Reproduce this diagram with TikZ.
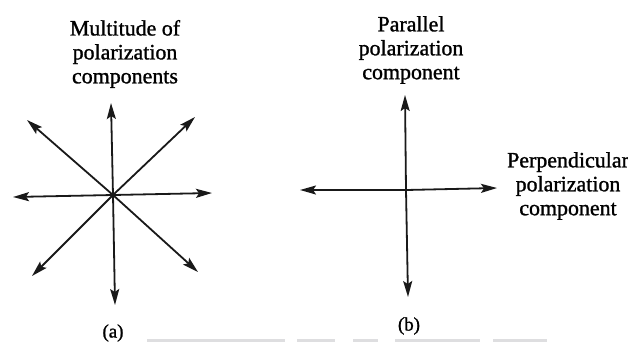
\documentclass[tikz,border=0pt]{standalone}
\usepackage{fontspec}
\setmainfont{Liberation Serif}
\newfontfamily\scanfont[FakeBold=1.2]{Liberation Serif}
\usetikzlibrary{arrows.meta}
\begin{document}
\begin{tikzpicture}[x=1bp,y=-1bp,
  vec/.style={line width=1.8bp, draw=black!90, -{Stealth[length=16bp,width=9bp,inset=3bp]}},
  lbl/.style={font=\scanfont\fontsize{22}{24}\selectfont, align=center, inner sep=0pt, text=black},
  captxt/.style={font=\scanfont\fontsize{19}{21}\selectfont, inner sep=0pt, text=black},
  scanbar/.style={fill=blue!6!black!13}]
\useasboundingbox (0,0) rectangle (628,342);
\clip (0,0) rectangle (628,342);

% (a) multitude of components
\coordinate (ca) at (113,195);
\coordinate (aU) at (111,103);
\coordinate (aD) at (115,305);
\coordinate (aL) at (13,197);
\coordinate (aR) at (212,193);
\coordinate (aUL) at (27,120);
\coordinate (aUR) at (195,117);
\coordinate (aLL) at (32,276);
\coordinate (aLR) at (198,272);
\foreach \t in {aU,aD,aL,aR,aUL,aUR,aLL,aLR}
  \draw[vec] (ca) -- (\t);

% (b) parallel / perpendicular
\coordinate (cb) at (406,190);
\coordinate (bU) at (405,95);
\coordinate (bD) at (408,297);
\coordinate (bL) at (300,190);
\coordinate (bR) at (497,188);
\foreach \t in {bU,bD,bL,bR}
  \draw[vec] (cb) -- (\t);

% labels
\node[lbl] (ta) at (125,54) {Multitude of\\polarization\\components};
\node[lbl] (tb) at (411,50) {Parallel\\polarization\\component};
\node[lbl] (tc) at (568,186) {Perpendicular\\polarization\\component};
\node[captxt] (la) at (113,333) {(a)};
\node[captxt] (lb) at (409,326) {(b)};

% faint scan bar at bottom
\fill[scanbar] (147,339) rectangle (285,342);
\fill[scanbar] (297,339) rectangle (335,342);
\fill[scanbar] (353,339) rectangle (378,342);
\fill[scanbar] (395,339) rectangle (480,342);
\fill[scanbar] (493,339) rectangle (547,342);
\end{tikzpicture}
\end{document}
